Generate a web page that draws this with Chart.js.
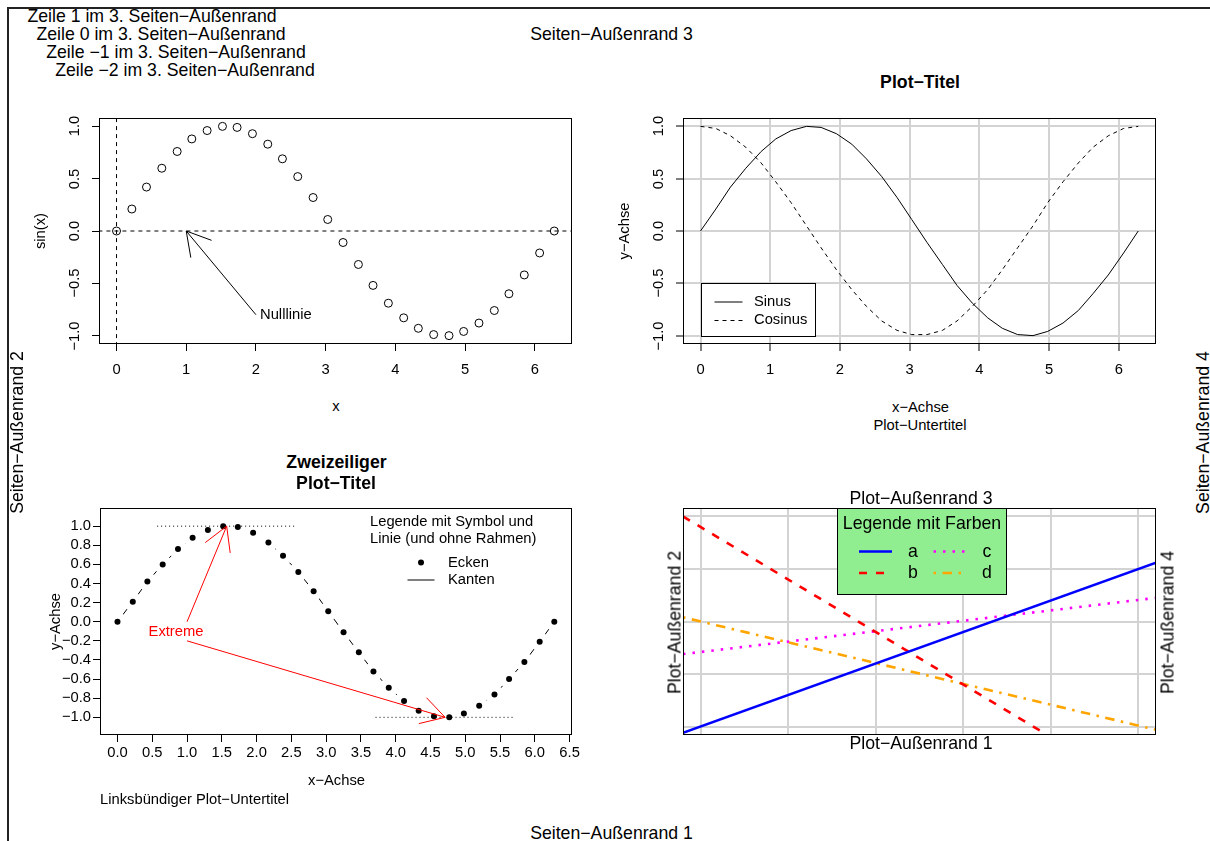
<!DOCTYPE html>
<html>
<head>
<meta charset="utf-8">
<script src="https://cdn.jsdelivr.net/npm/chart.js@4.4.1/dist/chart.umd.min.js"></script>
<style>
  body { margin: 0; background: #fff; }
  #page { position: relative; width: 1210px; height: 841px; overflow: hidden; background: #fff;
          font-family: "Liberation Sans", Arial, Helvetica, sans-serif; color: #000; }
  #page canvas { position: absolute; }
  .t { position: absolute; white-space: nowrap; text-align: center; }
  #frame { position: absolute; left: 7px; top: 7px; width: 1400px; height: 1000px;
           border-left: 2px solid #222; border-top: 2px solid #222; }
</style>
</head>
<body>
<div id="page">
  <div id="frame"></div>
  <canvas id="p1"></canvas>
  <canvas id="p2"></canvas>
  <canvas id="p3"></canvas>
  <canvas id="p4"></canvas>
</div>
<script>
// --- data ---
const xVals = [0.00, 0.22, 0.43, 0.65, 0.87, 1.08, 1.30, 1.52, 1.73, 1.95, 2.17, 2.38, 2.60, 2.82, 3.03,
  3.25, 3.47, 3.68, 3.90, 4.12, 4.33, 4.55, 4.77, 4.98, 5.20, 5.42, 5.63, 5.85, 6.07, 6.28];
const sinVals = [0.00, 0.21, 0.42, 0.60, 0.76, 0.88, 0.96, 1.00, 0.99, 0.93, 0.83, 0.69, 0.52, 0.32, 0.11,
  -0.11, -0.32, -0.52, -0.69, -0.83, -0.93, -0.99, -1.00, -0.96, -0.88, -0.76, -0.60, -0.42, -0.21, 0.00];
const cosVals = [1.00, 0.98, 0.91, 0.80, 0.65, 0.47, 0.27, 0.05, -0.16, -0.37, -0.56, -0.72, -0.86, -0.95, -0.99,
  -0.99, -0.95, -0.86, -0.72, -0.56, -0.37, -0.16, 0.05, 0.27, 0.47, 0.65, 0.80, 0.91, 0.98, 1.00];

const xTicksInt = [0, 1, 2, 3, 4, 5, 6];
const yTicksHalf = [-1, -0.5, 0, 0.5, 1];
const xTicksHalf = [0, 0.5, 1, 1.5, 2, 2.5, 3, 3.5, 4, 4.5, 5, 5.5, 6, 6.5];
const yTicksFifth = [-1, -0.8, -0.6, -0.4, -0.2, 0, 0.2, 0.4, 0.6, 0.8, 1];

// panel 1 reference lines and arrow
const zeroLineX = [-0.26, 6.54];
const zeroLineY = [-1.1, 1.1];
const nullArrow = { from: [2, -0.8], to: [1, 0] };

// panel 3 extremes
const topSegX = [0.57, 2.57];
const bottomSegX = [3.71, 5.71];
const extremeArrows = [{ from: [1, 0], to: [1.57, 1] }, { from: [1, -0.2], to: [4.71, -1] }];
const extremeLabel = [0.84, -0.11];

// panel 4 straight lines (values at left and right plot edge)
const edgeX4 = [-0.2, 5.2];
const lineA = [-0.12, 3.12];
const lineB = [4.00, -1.40];
const lineC = [1.38, 2.45];
const lineD = [2.08, -0.06];
const gridX4 = [0, 1, 2, 3, 4, 5];
const gridY4 = [0, 1, 2, 3, 4];

// --- helpers ---
const FONT = '"Liberation Sans", Arial, Helvetica, sans-serif';
const F = 14.75;
Chart.defaults.font.family = FONT;
Chart.defaults.color = '#000';
Chart.defaults.animation = false;
Chart.defaults.events = [];
Chart.defaults.plugins.legend.display = false;
Chart.defaults.plugins.tooltip.enabled = false;

const PAD = { l: 90, t: 20, r: 20, b: 45 };
const pts = (xs, ys) => xs.map((x, i) => ({ x, y: ys[i] }));
const fmt = (v, d) => (v < 0 ? '\u2212' : '') + Math.abs(v).toFixed(d);

const place = (id, box) => {
  const c = document.getElementById(id);
  c.width = box.r - box.l + PAD.l + PAD.r;
  c.height = box.b - box.t + PAD.t + PAD.b;
  c.style.left = (box.l - PAD.l) + 'px';
  c.style.top = (box.t - PAD.t) + 'px';
  return c;
};

const axis = (min, max, ticks, extra = {}) => {
  const { grid = {}, ticks: tk = {}, ...rest } = extra;
  return {
    type: 'linear', min, max,
    afterBuildTicks: (s) => { s.ticks = ticks.map((v) => ({ value: v })); },
    border: { display: false },
    grid: { drawOnChartArea: false, tickColor: '#000', tickWidth: 1, tickLength: 7, ...grid },
    ticks: { font: { size: F }, color: '#000', maxRotation: 0, autoSkip: false, ...tk },
    ...rest,
  };
};
const xFit = (s) => { s.height = PAD.b; };
const yFit = (s) => { s.width = PAD.l; };
// y axis title, offset from the canvas' left edge
const yTitle = (text, offset) => ({
  display: true, text, color: '#000', font: { size: F }, padding: { top: offset, bottom: 0 },
});

const boxPlugin = {
  id: 'box',
  afterDraw(chart) {
    const a = chart.chartArea;
    const ctx = chart.ctx;
    ctx.save();
    ctx.strokeStyle = '#000';
    ctx.lineWidth = 1;
    ctx.strokeRect(a.left + 0.5, a.top + 0.5, a.right - a.left - 1, a.bottom - a.top - 1);
    ctx.restore();
  },
};

const rotYTicks = {
  id: 'rotY',
  afterDraw(chart) {
    const s = chart.scales.y;
    const ctx = chart.ctx;
    ctx.save();
    ctx.font = `${F}px ${FONT}`;
    ctx.fillStyle = '#000';
    ctx.textAlign = 'center';
    ctx.textBaseline = 'middle';
    s.ticks.forEach((t) => {
      ctx.save();
      ctx.translate(chart.chartArea.left - 24, Math.round(s.getPixelForValue(t.value)));
      ctx.rotate(-Math.PI / 2);
      ctx.fillText(fmt(t.value, 1), 0, 0);
      ctx.restore();
    });
    ctx.restore();
  },
};

const drawArrow = (ctx, x0, y0, x1, y1) => {
  const len = 27, ang = Math.PI / 6;
  const th = Math.atan2(y1 - y0, x1 - x0);
  ctx.beginPath();
  ctx.moveTo(x0, y0);
  ctx.lineTo(x1, y1);
  ctx.moveTo(x1 - len * Math.cos(th - ang), y1 - len * Math.sin(th - ang));
  ctx.lineTo(x1, y1);
  ctx.lineTo(x1 - len * Math.cos(th + ang), y1 - len * Math.sin(th + ang));
  ctx.stroke();
};

// --- panel 1: sin(x) points ---
const box1 = { l: 99, t: 118, r: 572, b: 344 };
new Chart(place('p1', box1), {
  type: 'scatter',
  data: {
    datasets: [
      { data: pts(xVals, sinVals), pointRadius: 4, pointBorderWidth: 1, pointBorderColor: '#000',
        pointBackgroundColor: 'rgba(0,0,0,0)', showLine: false },
      { data: pts(zeroLineX, [0, 0]), showLine: true, pointRadius: 0, borderColor: '#000', borderWidth: 1, borderDash: [4, 4] },
      { data: pts([0, 0], zeroLineY), showLine: true, pointRadius: 0, borderColor: '#000', borderWidth: 1, borderDash: [4, 4] },
    ],
  },
  options: {
    responsive: false, devicePixelRatio: 1,
    layout: { padding: { left: 0, top: PAD.t, right: PAD.r, bottom: 0 } },
    scales: {
      x: axis(-0.2513, 6.5345, xTicksInt, { afterFit: xFit, ticks: { padding: 10, callback: (v) => String(v) } }),
      y: axis(-1.08, 1.08, yTicksHalf, { afterFit: yFit, ticks: { display: false }, title: yTitle('sin(x)', 23) }),
    },
  },
  plugins: [boxPlugin, rotYTicks, {
    id: 'nullArrow',
    afterDatasetsDraw(chart) {
      const { ctx, scales: { x, y } } = chart;
      const [fx, fy] = nullArrow.from, [tx, ty] = nullArrow.to;
      ctx.save();
      ctx.strokeStyle = '#000';
      ctx.lineWidth = 1;
      drawArrow(ctx, x.getPixelForValue(fx), y.getPixelForValue(fy), x.getPixelForValue(tx), y.getPixelForValue(ty));
      ctx.font = `${F}px ${FONT}`;
      ctx.fillStyle = '#000';
      ctx.textBaseline = 'middle';
      ctx.fillText('Nulllinie', Math.round(x.getPixelForValue(fx) + 4), Math.round(y.getPixelForValue(fy)));
      ctx.restore();
    },
  }],
});

// --- panel 2: sine and cosine with grid ---
const box2 = { l: 683, t: 118, r: 1156, b: 344 };
const lightGrid = { drawOnChartArea: true, color: '#d3d3d3', lineWidth: 2 };
new Chart(place('p2', box2), {
  type: 'scatter',
  data: {
    datasets: [
      { data: pts(xVals, sinVals), showLine: true, pointRadius: 0, borderColor: '#000', borderWidth: 1 },
      { data: pts(xVals, cosVals), showLine: true, pointRadius: 0, borderColor: '#000', borderWidth: 1, borderDash: [4, 4] },
    ],
  },
  options: {
    responsive: false, devicePixelRatio: 1,
    layout: { padding: { left: 0, top: PAD.t, right: PAD.r, bottom: 0 } },
    scales: {
      x: axis(-0.2513, 6.5345, xTicksInt, { afterFit: xFit, grid: lightGrid, ticks: { padding: 10, callback: (v) => String(v) } }),
      y: axis(-1.08, 1.08, yTicksHalf, { afterFit: yFit, grid: lightGrid, ticks: { display: false }, title: yTitle('y\u2212Achse', 23) }),
    },
  },
  plugins: [boxPlugin, rotYTicks, {
    id: 'legend2',
    afterDraw(chart) {
      const { ctx, scales: { x, y } } = chart;
      const left = Math.round(x.getPixelForValue(0)) + 0.5;
      const bottom = Math.round(y.getPixelForValue(-1)) + 0.5;
      const w = 114, h = 53;
      const top = bottom - h;
      ctx.save();
      ctx.fillStyle = '#fff';
      ctx.fillRect(left, top, w, h);
      ctx.strokeStyle = '#000';
      ctx.lineWidth = 1;
      ctx.strokeRect(left, top, w, h);
      const rows = [{ label: 'Sinus', dash: [] }, { label: 'Cosinus', dash: [4, 4] }];
      rows.forEach((r, i) => {
        const ry = top + 18.5 + i * 18.5;
        ctx.setLineDash(r.dash);
        ctx.beginPath();
        ctx.moveTo(left + 13, ry);
        ctx.lineTo(left + 41, ry);
        ctx.stroke();
        ctx.setLineDash([]);
        ctx.font = `${F}px ${FONT}`;
        ctx.fillStyle = '#000';
        ctx.textBaseline = 'middle';
        ctx.fillText(r.label, left + 52.5, ry - 0.5);
      });
      ctx.restore();
    },
  }],
});

// --- panel 3: points with gaps, extremes ---
const box3 = { l: 100, t: 508, r: 572, b: 735 };
new Chart(place('p3', box3), {
  type: 'scatter',
  data: {
    datasets: [
      { data: pts(xVals, sinVals), showLine: false, pointRadius: 3, pointBorderWidth: 0,
        pointBackgroundColor: '#000', pointBorderColor: '#000' },
      { data: pts(topSegX, [1, 1]), showLine: true, pointRadius: 0, borderColor: '#000', borderWidth: 1, borderDash: [1, 3] },
      { data: pts(bottomSegX, [-1, -1]), showLine: true, pointRadius: 0, borderColor: '#000', borderWidth: 1, borderDash: [1, 3] },
      { data: pts(xVals, sinVals), showLine: false, pointRadius: 9.5, pointBorderWidth: 0,
        pointBackgroundColor: '#fff', pointBorderColor: '#fff' },
      { data: pts(xVals, sinVals), showLine: true, pointRadius: 0, borderColor: '#000', borderWidth: 1 },
    ],
  },
  options: {
    responsive: false, devicePixelRatio: 1,
    layout: { padding: { left: 0, top: PAD.t, right: PAD.r, bottom: 0 } },
    scales: {
      x: axis(-0.2513, 6.5345, xTicksHalf, { afterFit: xFit, ticks: { padding: 2, callback: (v) => fmt(v, 1) } }),
      y: axis(-1.185, 1.19, yTicksFifth, { afterFit: yFit, ticks: { padding: 2, callback: (v) => fmt(v, 1) },
        title: yTitle('y\u2212Achse', 37) }),
    },
  },
  plugins: [boxPlugin, {
    id: 'extremes',
    afterDatasetsDraw(chart) {
      const { ctx, scales: { x, y }, chartArea: a } = chart;
      ctx.save();
      ctx.strokeStyle = '#ff0000';
      ctx.lineWidth = 1;
      extremeArrows.forEach((ar) => {
        drawArrow(ctx, x.getPixelForValue(ar.from[0]), y.getPixelForValue(ar.from[1]),
          x.getPixelForValue(ar.to[0]), y.getPixelForValue(ar.to[1]));
      });
      ctx.font = `${F}px ${FONT}`;
      ctx.fillStyle = '#ff0000';
      ctx.textAlign = 'center';
      ctx.textBaseline = 'middle';
      ctx.fillText('Extreme', Math.round(x.getPixelForValue(extremeLabel[0])), Math.round(y.getPixelForValue(extremeLabel[1])));
      // legend without frame
      ctx.fillStyle = '#000';
      ctx.strokeStyle = '#000';
      ctx.textAlign = 'left';
      ctx.fillText('Legende mit Symbol und', a.right - 202, a.top + 13.5);
      ctx.fillText('Linie (und ohne Rahmen)', a.right - 202, a.top + 31);
      ctx.beginPath();
      ctx.arc(a.right - 151, a.top + 54.5, 3, 0, Math.PI * 2);
      ctx.fill();
      ctx.fillText('Ecken', a.right - 124, a.top + 54.5);
      ctx.beginPath();
      ctx.moveTo(a.right - 164.5, a.top + 72);
      ctx.lineTo(a.right - 137.5, a.top + 72);
      ctx.stroke();
      ctx.fillText('Kanten', a.right - 124, a.top + 72);
      ctx.restore();
    },
  }],
});

// --- panel 4: coloured lines, no axes ---
const box4 = { l: 683, t: 508, r: 1156, b: 735 };
const series4 = [
  { label: 'a', vals: lineA, color: '#0000ff', dash: [] },
  { label: 'b', vals: lineB, color: '#ff0000', dash: [8, 9] },
  { label: 'c', vals: lineC, color: '#ff00ff', dash: [2.5, 7] },
  { label: 'd', vals: lineD, color: '#ffa500', dash: [2.5, 6.5, 9.5, 6.5] },
];
const grid4 = { drawOnChartArea: true, color: '#d3d3d3', lineWidth: 2, drawTicks: false, tickLength: 0 };
new Chart(place('p4', box4), {
  type: 'scatter',
  data: {
    datasets: series4.map((s) => ({
      data: pts(edgeX4, s.vals), showLine: true, pointRadius: 0,
      borderColor: s.color, borderWidth: 2.6, borderDash: s.dash,
    })),
  },
  options: {
    responsive: false, devicePixelRatio: 1,
    layout: { padding: { left: 0, top: PAD.t, right: PAD.r, bottom: 0 } },
    scales: {
      x: axis(-0.2, 5.2, gridX4, { afterFit: xFit, grid: grid4, ticks: { display: false } }),
      y: axis(-0.16, 4.16, gridY4, { afterFit: yFit, grid: grid4, ticks: { display: false } }),
    },
  },
  plugins: [boxPlugin, {
    id: 'legend4',
    afterDraw(chart) {
      const { ctx, chartArea: a } = chart;
      const cx = Math.round((a.left + a.right) / 2) + 2;
      const w = 169, h = 86;
      const left = cx - Math.round(w / 2) + 0.5, top = a.top + 0.5;
      ctx.save();
      ctx.fillStyle = '#90ee90';
      ctx.fillRect(left, top, w, h);
      ctx.strokeStyle = '#000';
      ctx.lineWidth = 1;
      ctx.strokeRect(left, top, w, h);
      ctx.font = `17.7px ${FONT}`;
      ctx.fillStyle = '#000';
      ctx.textAlign = 'center';
      ctx.textBaseline = 'middle';
      ctx.fillText('Legende mit Farben', cx, a.top + 16);
      series4.forEach((s, i) => {
        const col = Math.floor(i / 2), row = i % 2;
        const ry = a.top + 43.5 + row * 21.5;
        const x0 = cx - 63 + col * 74.5;
        ctx.strokeStyle = s.color;
        ctx.lineWidth = 2.6;
        ctx.setLineDash(s.dash);
        ctx.beginPath();
        ctx.moveTo(x0, ry);
        ctx.lineTo(x0 + 33, ry);
        ctx.stroke();
        ctx.setLineDash([]);
        ctx.fillText(s.label, Math.round(x0 + 53.5), Math.round(ry));
      });
      ctx.restore();
    },
  }],
});

// --- text in the margins ---
const texts = [
  { s: 'Zeile 1 im 3. Seiten\u2212Außenrand', x: 27, y: 16.7, size: 17.7, align: 'left' },
  { s: 'Zeile 0 im 3. Seiten\u2212Außenrand', x: 36, y: 34.5, size: 17.7, align: 'left' },
  { s: 'Zeile \u22121 im 3. Seiten\u2212Außenrand', x: 45.5, y: 52.3, size: 17.7, align: 'left' },
  { s: 'Zeile \u22122 im 3. Seiten\u2212Außenrand', x: 55, y: 70.3, size: 17.7, align: 'left' },
  { s: 'Seiten\u2212Außenrand 3', x: 611, y: 34, size: 17.7 },
  { s: 'Seiten\u2212Außenrand 1', x: 611, y: 833, size: 17.7 },
  { s: 'Seiten\u2212Außenrand 2', x: 17, y: 432, size: 17.7, rot: true },
  { s: 'Seiten\u2212Außenrand 4', x: 1203, y: 432, size: 17.7, rot: true },
  // panel 1
  { s: 'x', x: 336, y: 406, size: F },
  // panel 2
  { s: 'Plot\u2212Titel', x: 920, y: 82.5, size: 17.7, bold: true },
  { s: 'x\u2212Achse', x: 920, y: 406.5, size: F },
  { s: 'Plot\u2212Untertitel', x: 920, y: 424.5, size: F },
  // panel 3
  { s: 'Zweizeiliger', x: 336, y: 462.5, size: 17.7, bold: true },
  { s: 'Plot\u2212Titel', x: 336, y: 483.5, size: 17.7, bold: true },
  { s: 'x\u2212Achse', x: 336, y: 780, size: F },
  { s: 'Linksbündiger Plot\u2212Untertitel', x: 100, y: 798.5, size: F, align: 'left' },
  // panel 4
  { s: 'Plot\u2212Außenrand 3', x: 921, y: 498, size: 17.7 },
  { s: 'Plot\u2212Außenrand 1', x: 921, y: 743.5, size: 17.7 },
  { s: 'Plot\u2212Außenrand 2', x: 674, y: 622, size: 17.7, rot: true },
  { s: 'Plot\u2212Außenrand 4', x: 1167.5, y: 622, size: 17.7, rot: true },
];
const page = document.getElementById('page');
texts.forEach((t) => {
  const d = document.createElement('div');
  d.className = 't';
  d.textContent = t.s;
  d.style.fontSize = t.size + 'px';
  if (t.bold) d.style.fontWeight = 'bold';
  const lh = Math.round(t.size * 1.2);
  d.style.lineHeight = lh + 'px';
  page.appendChild(d);
  const w = Math.ceil(d.getBoundingClientRect().width);
  d.style.width = w + 'px';
  d.style.height = lh + 'px';
  if (t.rot) {
    // keep the rotated box on whole pixels
    const cx = Math.round(t.x - lh / 2) + lh / 2;
    const cy = Math.round(t.y - w / 2) + w / 2;
    d.style.left = (cx - w / 2) + 'px';
    d.style.top = (cy - lh / 2) + 'px';
    d.style.transform = 'rotate(-90deg)';
  } else {
    d.style.left = (t.align === 'left' ? Math.round(t.x) : Math.round(t.x - w / 2)) + 'px';
    d.style.top = Math.round(t.y - lh / 2) + 'px';
  }
});
</script>
</body>
</html>
